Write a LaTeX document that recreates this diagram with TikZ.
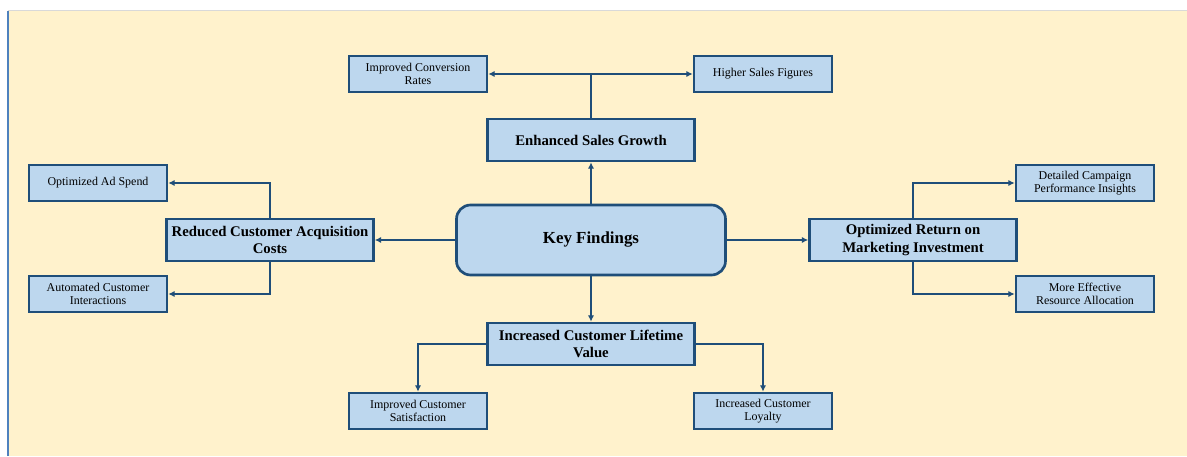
\documentclass[tikz,border=0pt]{standalone}
\usepackage{fontspec}
\setmainfont{Liberation Serif}
\usetikzlibrary{positioning}
\usetikzlibrary{arrows.meta}
\definecolor{bgyellow}{RGB}{255,242,204}
\definecolor{boxblue}{RGB}{189,215,238}
\definecolor{linblue}{RGB}{31,78,121}
\definecolor{edgeblue}{RGB}{79,129,189}
\tikzset{
    keynode/.style = {rectangle, rounded corners=10pt, line width=1.9pt, draw=linblue, fill=boxblue, align=center, minimum width=6.725cm, minimum height=1.75cm, font=\fontsize{12}{13}\selectfont\bfseries},
    mainnode/.style = {rectangle, line width=1.9pt, draw=linblue, fill=boxblue, align=center, inner sep=1pt, minimum width=5.175cm, minimum height=1.05cm, font=\fontsize{10.5}{12.5}\selectfont\bfseries},
    subnode/.style = {rectangle, line width=1.9pt, draw=linblue, fill=boxblue, align=center, inner sep=1pt, minimum width=3.45cm, minimum height=0.9cm, font=\fontsize{8.5}{9.5}\selectfont},
    edgen/.style = {-{Latex[length=4.5pt,width=4.5pt]}, line width=1.6pt, draw=linblue},
}

\begin{document}
\begin{tikzpicture}[scale=1.00,transform shape]
\useasboundingbox (0,0) rectangle (29.675,11.4);
\fill[bgyellow] (0.2,0) rectangle (29.675,11.125);
\draw[gray!30, line width=0.6pt] (0.2,11.14) -- (29.675,11.14);
\draw[edgeblue, line width=0.8pt] (0.2,0) -- (0.2,11.125);
%
\node[keynode] at (14.775, 5.4) (kf) {Key Findings};
\node[mainnode] at (14.775, 7.9) (esg) {Enhanced Sales Growth};
\node[mainnode] at (6.75, 5.4) (rcac) {Reduced Customer Acquisition\\Costs};
\node[mainnode] at (22.825, 5.4) (ormi) {Optimized Return on\\Marketing Investment};
\node[mainnode] at (14.775, 2.8) (iclv) {Increased Customer Lifetime\\Value};
%
\node[subnode] at (10.45, 9.55) (icr) {Improved Conversion\\Rates};
\node[subnode] at (19.075, 9.55) (hsf) {Higher Sales Figures};
\node[subnode] at (2.45, 6.825) (oas) {Optimized Ad Spend};
\node[subnode] at (2.45, 4.05) (aci) {Automated Customer\\Interactions};
\node[subnode] at (27.125, 6.825) (dcpi) {Detailed Campaign\\Performance Insights};
\node[subnode] at (27.125, 4.05) (mera) {More Effective\\Resource Allocation};
\node[subnode] at (10.45, 1.125) (ics) {Improved Customer\\Satisfaction};
\node[subnode] at (19.075, 1.125) (icl) {Increased Customer\\Loyalty};
%
\draw[edgen] (kf.north) -- (esg.south);
\draw[edgen] (kf.west) -- (rcac.east);
\draw[edgen] (kf.east) -- (ormi.west);
\draw[edgen] (kf.south) -- (iclv.north);
\draw[edgen] (esg.north) |- (icr.east);
\draw[edgen] (esg.north) |- (hsf.west);
\draw[edgen] (rcac.north) |- (oas.east);
\draw[edgen] (rcac.south) |- (aci.east);
\draw[edgen] (ormi.north) |- (dcpi.west);
\draw[edgen] (ormi.south) |- (mera.west);
\draw[edgen] (iclv.west) -| (ics.north);
\draw[edgen] (iclv.east) -| (icl.north);

\end{tikzpicture}
\end{document}
